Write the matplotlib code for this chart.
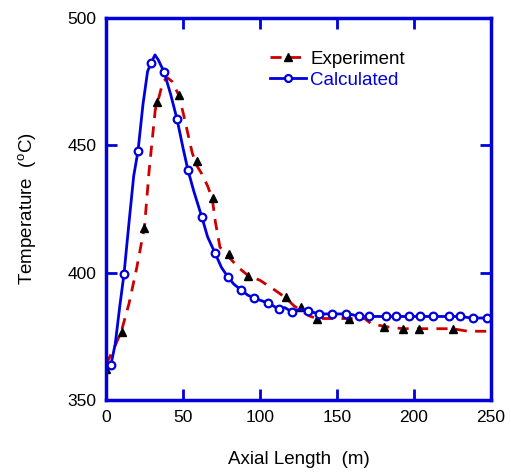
import matplotlib.pyplot as plt
from matplotlib.lines import Line2D

plt.rcParams['font.family'] = ['Liberation Sans', 'DejaVu Sans']

# Experiment: dashed line and triangle markers
exp_x = [0, 5, 10, 15, 20, 25, 28, 30, 32, 34, 37, 40, 43, 47, 50, 53, 56, 59, 62, 66,
         69, 71, 74, 80, 86, 92, 100, 110, 117, 122, 127, 132, 137, 150, 158, 168, 172,
         180, 185, 193, 203, 215, 225, 230, 235, 250]
exp_y = [364, 370, 377, 388, 402, 418, 440, 452, 464, 468, 475, 476.5, 475, 470, 463,
         455, 447, 442, 439, 434, 429, 420, 410, 406, 402, 399, 397, 393, 390, 387, 385,
         383, 382, 382, 382, 382, 380, 379, 378.5, 378, 378, 378, 378, 377.5, 377, 377]
exp_mx = [0, 10.4, 24.7, 33.1, 47.4, 59.1, 69.5, 79.9, 92.2, 116.9, 126.6, 137, 157.8,
          180.5, 192.9, 203.2, 225.3]
exp_my = [362.2, 376.7, 417.5, 467, 469.8, 443.9, 429.3, 407.3, 398.7, 390.5, 386.5,
          381.8, 381.8, 378.7, 377.9, 377.9, 377.9]

# Calculated: solid line and circle markers
cal_x = [0, 3.2, 6, 9, 11.7, 15, 18, 20.8, 24, 27, 29.2, 31.8, 34, 37.7, 42, 46.1, 50,
         53.2, 57, 62.3, 66, 70.8, 75, 79.2, 83, 87.7, 92, 96.1, 105.2, 112.3, 116,
         120.8, 125, 131.2, 138.3, 146.8, 155.8, 160, 164.3, 170.8, 181.8, 188.3, 196.8,
         203.9, 212.3, 222.7, 229.9, 235, 238.3, 247.4, 250]
cal_y = [363, 363.8, 372, 387, 399.5, 420, 438, 447.8, 466, 479, 482.3, 485.5, 483.5,
         478.8, 470, 460.3, 449, 440.3, 432, 421.7, 414, 407.7, 402, 398.3, 395.5, 393.2,
         391.2, 390, 388.1, 385.7, 386.3, 384.6, 385.5, 385, 383.8, 383.8, 383.8, 383.5,
         382.8, 382.8, 382.8, 382.8, 382.8, 382.8, 382.8, 382.8, 382.8, 382.4, 382.2,
         382.2, 382.2]
cal_mx = [3.2, 11.7, 20.8, 29.2, 37.7, 46.1, 53.2, 62.3, 70.8, 79.2, 87.7, 96.1, 105.2,
          112.3, 120.8, 131.2, 138.3, 146.8, 155.8, 164.3, 170.8, 181.8, 188.3, 196.8,
          203.9, 212.3, 222.7, 229.9, 238.3, 247.4]
cal_my = [363.8, 399.5, 447.8, 482.3, 478.8, 460.3, 440.3, 421.7, 407.7, 398.3, 393.2,
          390, 388.1, 385.7, 384.6, 385, 383.8, 383.8, 383.8, 382.8, 382.8, 382.8, 382.8,
          382.8, 382.8, 382.8, 382.8, 382.8, 382.2, 382.2]

blue = '#0000dd'
red = '#cc0000'

fig = plt.figure(figsize=(5.11, 4.73), dpi=100)
ax = fig.add_axes([0.2074, 0.1543, 0.7536, 0.8077])

ax.plot(exp_x, exp_y, color=red, lw=2, ls=(0, (4, 3)))
ax.plot(exp_mx, exp_my, ls='none', marker='^', ms=6, color='black')
ax.plot(cal_x, cal_y, color=blue, lw=2)
ax.plot(cal_mx, cal_my, ls='none', marker='o', ms=5.5, mfc='white', mec=blue, mew=1.6)

ax.set_xlim(0, 250)
ax.set_ylim(350, 500)
ax.set_xticks([0, 50, 100, 150, 200, 250])
ax.set_yticks([350, 400, 450, 500])
ax.tick_params(direction='in', length=8, width=2, color=blue, labelsize=12.5,
               top=True, right=True, pad=7)
for s in ax.spines.values():
    s.set_color(blue)
    s.set_linewidth(2.5)

ax.set_xlabel('Axial Length  (m)', fontsize=13.5, labelpad=19)
ax.set_ylabel('Temperature  ($^{\\mathregular{o}}$C)', fontsize=13.5, labelpad=20)

h1 = Line2D([], [], color=red, lw=2, ls=(0, (4, 3)), marker='^', ms=6,
            mfc='black', mec='black')
h2 = Line2D([], [], color=blue, lw=2, marker='o', ms=5, mfc='white', mec=blue, mew=1.6)
leg = ax.legend([h1, h2], ['Experiment', 'Calculated'], loc='upper left',
                bbox_to_anchor=(0.426, 0.914), borderaxespad=0, borderpad=0,
                frameon=False, fontsize=13.5, handlelength=1.9, handletextpad=0.25,
                labelspacing=0.2)
leg.get_texts()[1].set_color(blue)

fig.savefig('out.png', dpi=100)
